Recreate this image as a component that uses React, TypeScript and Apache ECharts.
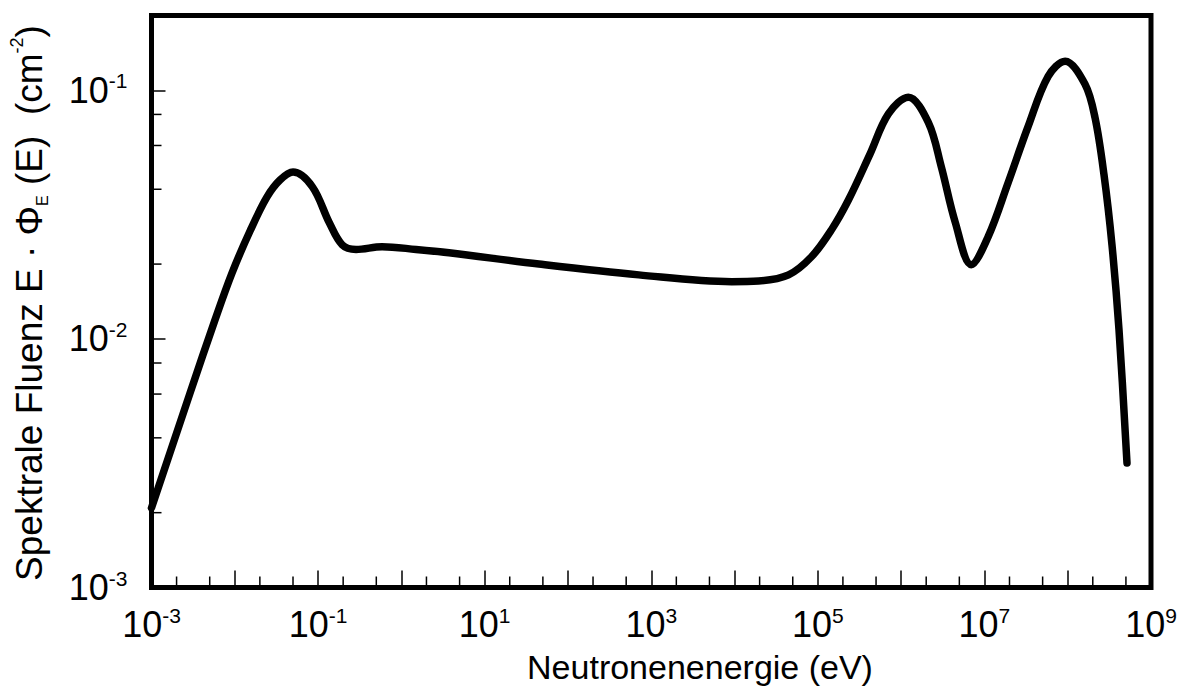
import React, { useEffect, useRef } from "react";
import * as echarts from "echarts";

const FONT = "'Liberation Sans', Arial, Helvetica, sans-serif";

// Neutron energy (eV) and spectral fluence E·Φ_E(E) (cm^-2)
const energy = [
  1.0e-3, 2.9e-3, 5.78e-3, 9.25e-3, 0.01524, 0.02438, 0.0349, 0.05, 0.0851, 0.136,
  0.195, 0.286, 0.587, 1.5, 3.73, 44.8, 708, 9230, 1.94e4, 4.45e4,
  8.39e4, 1.46e5, 2.33e5, 4.24e5, 7.03e5, 1.22e6, 2.12e6, 3.03e6, 4.47e6, 6.95e6,
  1.11e7, 1.93e7, 3.35e7, 5.82e7, 9.31e7, 1.61e8, 2.13e8, 2.73e8, 3.4e8, 4.13e8,
  5.15e8,
];
const fluence = [
  2.09e-3, 6.05e-3, 0.01191, 0.0184, 0.02716, 0.03724, 0.04355, 0.0469, 0.041, 0.0294,
  0.0239, 0.0229, 0.0235, 0.0229, 0.0222, 0.02, 0.0181, 0.017, 0.0171, 0.0181,
  0.0214, 0.0275, 0.0362, 0.0555, 0.0804, 0.0938, 0.0743, 0.0494, 0.0294, 0.0199,
  0.0258, 0.0426, 0.0716, 0.1138, 0.131, 0.106, 0.0775, 0.0456, 0.0239, 0.01087,
  3.17e-3,
];

const X_MIN = 1e-3;
const X_MAX = 1e9;
const Y_MIN = 1e-3;
const Y_MAX = 0.2;

// minor ticks (2 and 5 per decade on x, 2,4,6,8 per decade on y)
const xMinorTicks: number[] = [];
for (let e = -3; e < 9; e++) {
  xMinorTicks.push(2 * Math.pow(10, e), 5 * Math.pow(10, e));
}
const yMinorTicks: number[] = [];
for (let e = -3; e < 0; e++) {
  for (const m of [2, 4, 6, 8]) {
    const v = m * Math.pow(10, e);
    if (v < Y_MAX) yMinorTicks.push(v);
  }
}

const xTitle = "Neutronenenergie (eV)";
const yTitle = "Spektrale Fluenz E · Φ{sub|E} (E)  (cm{sup|-2})";

function decadeLabel(v: number, oddOnly: boolean): string {
  const e = Math.round(Math.log10(v));
  if (Math.abs(v / Math.pow(10, e) - 1) > 1e-6) return "";
  if (oddOnly && Math.abs(e) % 2 !== 1) return "";
  return `{b|10}{s|${e}}`;
}

const labelRich = {
  b: { fontSize: 36, fontFamily: FONT, color: "#000", lineHeight: 40 },
  s: { fontSize: 21, fontFamily: FONT, color: "#000", lineHeight: 17, verticalAlign: "top" as const },
};

export default function App() {
  const ref = useRef<HTMLDivElement>(null);

  useEffect(() => {
    if (!ref.current) return;
    const chart = echarts.init(ref.current, undefined, { renderer: "svg" });
    const option: any = {
      animation: false,
      backgroundColor: "#fff",
      grid: {
        left: 151.5,
        right: 32,
        top: 15.5,
        bottom: 102.5,
        show: true,
        borderColor: "#000",
        borderWidth: 5,
        backgroundColor: "transparent",
        z: 10,
      },
      xAxis: {
        type: "log",
        logBase: 10,
        min: X_MIN,
        max: X_MAX,
        interval: 1,
        axisLine: { show: false },
        splitLine: { show: false },
        axisTick: { show: true, inside: true, length: 17, lineStyle: { color: "#000", width: 1.5 } },
        axisLabel: {
          show: true,
          margin: 17,
          formatter: (v: number) => decadeLabel(v, true),
          rich: labelRich,
          showMinLabel: true,
          showMaxLabel: true,
        },
      },
      yAxis: {
        type: "log",
        logBase: 10,
        min: Y_MIN,
        max: Y_MAX,
        interval: 1,
        axisLine: { show: false },
        splitLine: { show: false },
        axisTick: { show: true, inside: true, length: 14, lineStyle: { color: "#000", width: 1.5 } },
        axisLabel: {
          show: true,
          margin: 24,
          formatter: (v: number) => decadeLabel(v, false),
          rich: labelRich,
          showMinLabel: true,
          showMaxLabel: true,
        },
      },
      graphic: [
        {
          type: "text",
          x: 700,
          y: 667,
          style: {
            text: xTitle,
            fontSize: 34,
            fontFamily: FONT,
            fill: "#000",
            align: "center",
            verticalAlign: "middle",
          },
        },
        {
          type: "text",
          x: 29,
          y: 303,
          rotation: Math.PI / 2,
          style: {
            text: yTitle,
            fontSize: 37,
            fontFamily: FONT,
            fill: "#000",
            align: "center",
            verticalAlign: "middle",
            lineHeight: 42,
            rich: {
              sub: { fontSize: 16, fontFamily: FONT, fill: "#000", lineHeight: 22, verticalAlign: "bottom" },
              sup: { fontSize: 18, fontFamily: FONT, fill: "#000", lineHeight: 24, verticalAlign: "top" },
            },
          },
        },
      ],
      series: [
        {
          type: "line",
          data: energy.map((e, i) => [e, fluence[i]]),
          smooth: 0.35,
          symbol: "none",
          lineStyle: { color: "#000", width: 7.5, cap: "round", join: "round" },
          z: 5,
        },
        {
          type: "custom",
          data: xMinorTicks.map((v) => [v, Y_MIN]),
          renderItem: (_p: any, api: any) => {
            const pt = api.coord([api.value(0), Y_MIN]);
            return {
              type: "line",
              shape: { x1: pt[0], y1: pt[1], x2: pt[0], y2: pt[1] - 11 },
              style: { stroke: "#000", lineWidth: 1.5 },
            };
          },
          silent: true,
          z: 4,
        },
        {
          type: "custom",
          data: yMinorTicks.map((v) => [X_MIN, v]),
          renderItem: (_p: any, api: any) => {
            const pt = api.coord([X_MIN, api.value(1)]);
            return {
              type: "line",
              shape: { x1: pt[0], y1: pt[1], x2: pt[0] + 10, y2: pt[1] },
              style: { stroke: "#000", lineWidth: 1.5 },
            };
          },
          silent: true,
          z: 4,
        },
      ],
    };
    chart.setOption(option);
    return () => chart.dispose();
  }, []);

  return (
    <div
      ref={ref}
      style={{ position: "fixed", left: 0, top: 0, width: 1183, height: 690, background: "#fff" }}
    />
  );
}
